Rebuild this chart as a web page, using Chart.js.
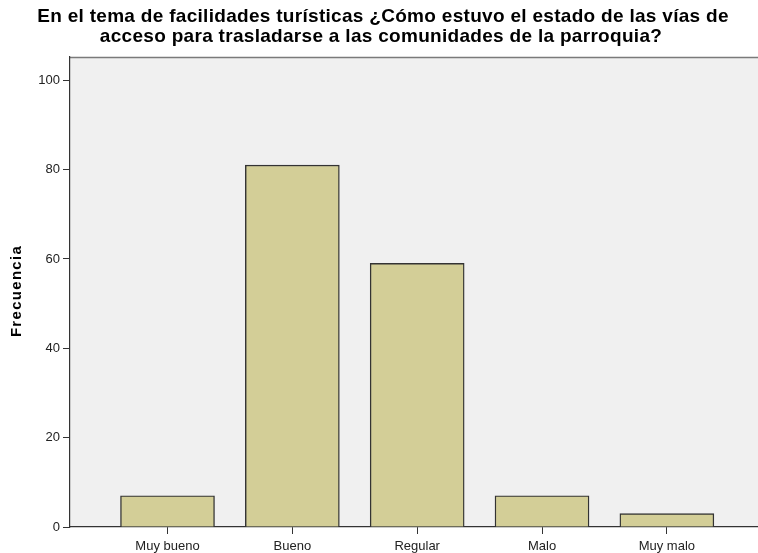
<!DOCTYPE html>
<html>
<head>
<meta charset="utf-8">
<script src="https://cdn.jsdelivr.net/npm/chart.js@4.4.1/dist/chart.umd.min.js"></script>
<style>
  html, body { margin: 0; padding: 0; background: #ffffff; }
  #wrap { width: 758px; height: 553px; }
</style>
</head>
<body>
<div id="wrap"><canvas id="barChart" width="758" height="553"></canvas></div>
<script>
// datos
const categorias = ['Muy bueno', 'Bueno', 'Regular', 'Malo', 'Muy malo'];
const frecuencias = [7, 81, 59, 7, 3];
const ticksY = [0, 20, 40, 60, 80, 100];

const tituloLineas = [
    'En el tema de facilidades turísticas ¿Cómo estuvo el estado de las vías de',
    'acceso para trasladarse a las comunidades de la parroquia?'
];
const tituloY = 'Frecuencia';

const FUENTE = 'Liberation Sans, Arial, sans-serif';

// fondo gris del area del grafico + linea superior
const fondoPlot = {
    id: 'fondoPlot',
    beforeDraw(chart) {
        const a = chart.chartArea;
        const ctx = chart.ctx;
        ctx.save();
        ctx.fillStyle = '#f0f0f0';
        ctx.fillRect(a.left, a.top, a.right - a.left, a.bottom - a.top);
        ctx.strokeStyle = '#7a7a7a';
        ctx.lineWidth = 1.5;
        ctx.beginPath();
        ctx.moveTo(a.left, a.top + 0.5);
        ctx.lineTo(a.right, a.top + 0.5);
        ctx.stroke();
        ctx.restore();
    }
};

// titulos con espaciado de letras (como SPSS)
const titulos = {
    id: 'titulos',
    afterDraw(chart) {
        const ctx = chart.ctx;
        ctx.save();
        ctx.fillStyle = '#000000';
        ctx.textAlign = 'center';
        ctx.textBaseline = 'middle';
        ctx.font = 'bold 19px ' + FUENTE;
        ctx.letterSpacing = '0.3px';
        ctx.fillText(tituloLineas[0], 383, 17);
        ctx.fillText(tituloLineas[1], 381, 37);

        ctx.font = 'bold 15px ' + FUENTE;
        ctx.letterSpacing = '1.3px';
        ctx.translate(17, 291);
        ctx.rotate(-Math.PI / 2);
        ctx.fillText(tituloY, 0, 0);
        ctx.restore();
    }
};

const ctx = document.getElementById('barChart').getContext('2d');
window.barChart = new Chart(ctx, {
    type: 'bar',
    data: {
        datasets: [{
            data: frecuencias.map((v, i) => ({ x: i, y: v })),
            backgroundColor: '#d3ce97',
            borderColor: '#333333',
            borderWidth: 1.4,
            barThickness: 94
        }]
    },
    options: {
        responsive: false,
        animation: false,
        layout: { padding: { top: 57 } },
        plugins: {
            legend: { display: false },
            tooltip: { enabled: false },
            title: { display: false }
        },
        scales: {
            x: {
                type: 'linear',
                offset: false,
                min: -0.781,
                max: 4.73,
                afterBuildTicks(scale) {
                    scale.ticks = categorias.map((c, i) => ({ value: i }));
                },
                afterFit(scale) { scale.height = 26; },
                ticks: {
                    callback: (v) => categorias[v],
                    color: '#222222',
                    font: { family: FUENTE, size: 13 },
                    padding: 5,
                    maxRotation: 0,
                    autoSkip: false
                },
                grid: {
                    offset: false,
                    drawOnChartArea: false,
                    drawTicks: true,
                    tickLength: 7,
                    tickColor: '#333333'
                },
                border: { display: true, color: '#333333', width: 1.2 }
            },
            y: {
                min: 0,
                max: 105.2,
                afterBuildTicks(scale) {
                    scale.ticks = ticksY.map(v => ({ value: v }));
                },
                afterFit(scale) { scale.width = 70; },
                ticks: {
                    color: '#222222',
                    font: { family: FUENTE, size: 13 },
                    padding: 3
                },
                grid: {
                    drawOnChartArea: false,
                    drawTicks: true,
                    tickLength: 7,
                    tickColor: '#333333'
                },
                border: { display: true, color: '#333333', width: 1.2 }
            }
        }
    },
    plugins: [fondoPlot, titulos]
});
</script>
</body>
</html>
